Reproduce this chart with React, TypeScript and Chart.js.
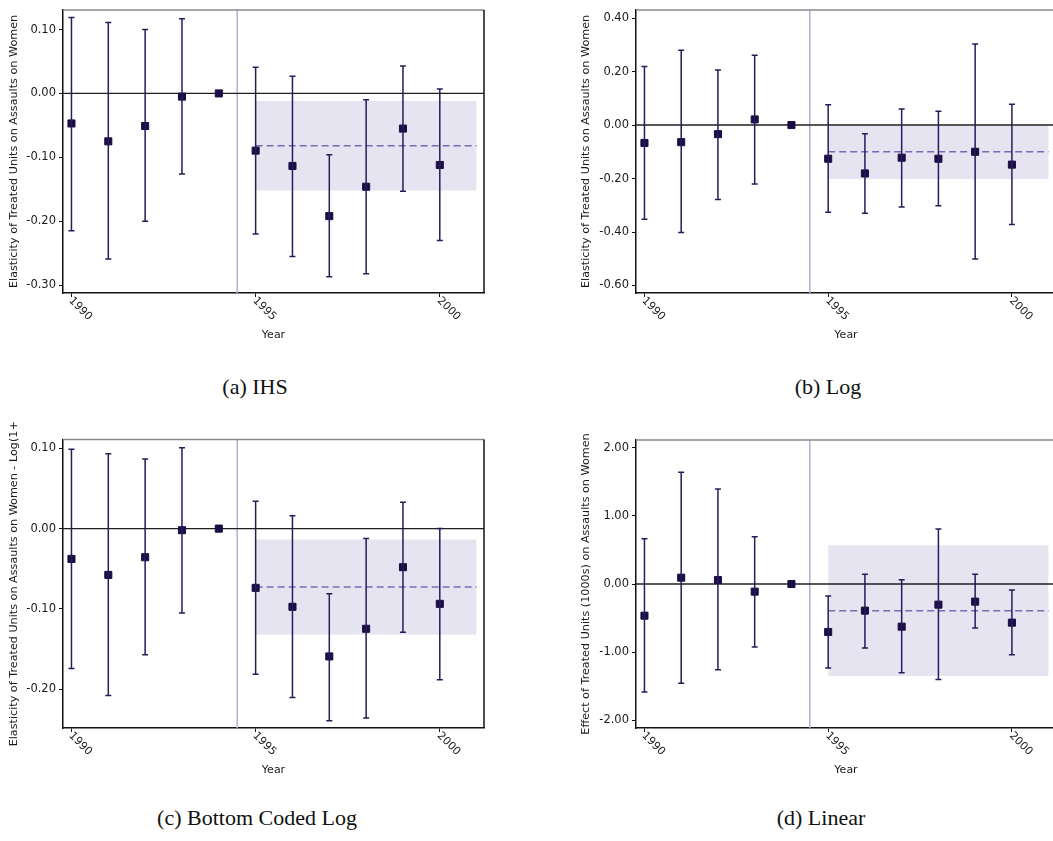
import React, { useEffect, useRef } from "react";
import { Chart, registerables } from "chart.js";

Chart.register(...registerables);

const years = [1990, 1991, 1992, 1993, 1994, 1995, 1996, 1997, 1998, 1999, 2000];
const xTickYears = [1990, 1995, 2000];
const xMin = 1989.77;
const xMax = 2001.2;
const treatmentLine = 1994.5;
const postStart = 1995;
const postEnd = 2001;

// (a) IHS
const ihsEst = [-0.047, -0.075, -0.051, -0.005, 0, -0.0895, -0.1135, -0.192, -0.146, -0.055, -0.112];
const ihsLower = [-0.215, -0.259, -0.2, -0.126, 0, -0.22, -0.255, -0.287, -0.282, -0.153, -0.23];
const ihsUpper = [0.119, 0.111, 0.1, 0.117, 0, 0.041, 0.027, -0.096, -0.01, 0.043, 0.007];
const ihsPooled = [-0.082, -0.152, -0.012];
const ihsTicks = [-0.3, -0.2, -0.1, 0, 0.1];
const ihsRange = [-0.3123, 0.1307];

// (b) Log
const logEst = [-0.067, -0.064, -0.034, 0.021, 0, -0.126, -0.181, -0.122, -0.126, -0.1, -0.148];
const logLower = [-0.352, -0.402, -0.278, -0.22, 0, -0.326, -0.33, -0.306, -0.302, -0.501, -0.372];
const logUpper = [0.219, 0.28, 0.206, 0.261, 0, 0.076, -0.033, 0.06, 0.052, 0.303, 0.078];
const logPooled = [-0.1, -0.2017, -0.0025];
const logTicks = [-0.6, -0.4, -0.2, 0, 0.2, 0.4];
const logRange = [-0.628, 0.4305];

// (c) Bottom Coded Log
const bclEst = [-0.0377, -0.0576, -0.0356, -0.002, 0, -0.0737, -0.0973, -0.159, -0.1246, -0.048, -0.0936];
const bclLower = [-0.174, -0.2075, -0.157, -0.105, 0, -0.181, -0.21, -0.239, -0.2356, -0.1288, -0.188];
const bclUpper = [0.0986, 0.093, 0.0866, 0.1006, 0, 0.034, 0.0161, -0.081, -0.0124, 0.0327, 0.0];
const bclPooled = [-0.0725, -0.1317, -0.0137];
const bclTicks = [-0.2, -0.1, 0, 0.1];
const bclRange = [-0.248, 0.1108];

// (d) Linear
const linEst = [-0.465, 0.093, 0.059, -0.112, 0, -0.704, -0.391, -0.626, -0.303, -0.259, -0.567];
const linLower = [-1.584, -1.457, -1.257, -0.924, 0, -1.232, -0.939, -1.301, -1.403, -0.645, -1.037];
const linUpper = [0.665, 1.638, 1.394, 0.694, 0, -0.176, 0.142, 0.064, 0.807, 0.142, -0.088];
const linPooled = [-0.391, -1.35, 0.567];
const linTicks = [-2, -1, 0, 1, 2];
const linRange = [-2.113, 2.113];

const FONT = "'DejaVu Sans', Arial, sans-serif";
const POINT = "#1b0e44";
const BAR = "#2a1b5a";
const DASH = "#7c69b3";
const VLINE = "#b7acdc";
const BAND = "rgb(231, 228, 241)";

type PanelProps = {
  left: number;
  top: number;
  width: number;
  height: number;
  padTop: number;
  padRight: number;
  yAxisWidth: number;
  title: string;
  est: number[];
  lower: number[];
  upper: number[];
  pooled: number[];
  ticks: number[];
  range: number[];
};

function Panel(p: PanelProps) {
  const ref = useRef<HTMLCanvasElement | null>(null);
  useEffect(() => {
    if (!ref.current) return;
    const { est, lower, upper, pooled, ticks, range } = p;
    const overlay = {
      id: "overlay",
      afterDatasetsDraw(chart: any) {
        const ctx = chart.ctx;
        const xs = chart.scales.x;
        const ys = chart.scales.y;
        const ca = chart.chartArea;
        ctx.save();
        ctx.strokeStyle = BAR;
        ctx.lineWidth = 1.5;
        years.forEach((yr, i) => {
          if (lower[i] === upper[i]) return;
          const px = xs.getPixelForValue(yr);
          const y1 = ys.getPixelForValue(upper[i]);
          const y2 = ys.getPixelForValue(lower[i]);
          ctx.beginPath();
          ctx.moveTo(px, y1);
          ctx.lineTo(px, y2);
          ctx.moveTo(px - 3, y1);
          ctx.lineTo(px + 3, y1);
          ctx.moveTo(px - 3, y2);
          ctx.lineTo(px + 3, y2);
          ctx.stroke();
        });
        ctx.lineWidth = 1.5;
        ctx.strokeStyle = "#8a8a8a";
        ctx.beginPath();
        ctx.moveTo(ca.left, ca.top);
        ctx.lineTo(ca.right, ca.top);
        ctx.stroke();
        ctx.strokeStyle = "#111";
        ctx.beginPath();
        ctx.moveTo(ca.right, ca.top);
        ctx.lineTo(ca.right, ca.bottom);
        ctx.stroke();
        ctx.restore();
      },
      afterDraw(chart: any) {
        const ctx = chart.ctx;
        const xs = chart.scales.x;
        const ca = chart.chartArea;
        ctx.save();
        ctx.font = "11px " + FONT;
        ctx.fillStyle = "#1a1a1a";
        ctx.textAlign = "left";
        ctx.textBaseline = "middle";
        xTickYears.forEach((v) => {
          const px = xs.getPixelForValue(v);
          ctx.save();
          ctx.translate(px - 1, ca.bottom + 6);
          ctx.rotate(Math.PI / 4);
          ctx.fillText(String(v), 0, 0);
          ctx.restore();
        });
        ctx.restore();
      },
    };
    const chart = new Chart(ref.current, {
      type: "scatter",
      data: {
        datasets: [
          {
            data: years.map((x, i) => ({ x, y: est[i] })),
            pointStyle: "rect",
            pointRadius: 5,
            backgroundColor: POINT,
            borderColor: POINT,
            borderWidth: 1,
            showLine: false,
          },
          {
            data: [
              { x: postStart, y: pooled[0] },
              { x: postEnd, y: pooled[0] },
            ],
            borderColor: DASH,
            borderWidth: 1.5,
            borderDash: [7, 4],
            pointRadius: 0,
            showLine: true,
            fill: false,
          },
          {
            data: [
              { x: xMin, y: 0 },
              { x: xMax, y: 0 },
            ],
            borderColor: "#1f1f1f",
            borderWidth: 1.4,
            pointRadius: 0,
            showLine: true,
            fill: false,
          },
          {
            data: [
              { x: treatmentLine, y: range[0] },
              { x: treatmentLine, y: range[1] },
            ],
            borderColor: VLINE,
            borderWidth: 1.5,
            pointRadius: 0,
            showLine: true,
            fill: false,
          },
          {
            data: [
              { x: postStart, y: pooled[2] },
              { x: postEnd, y: pooled[2] },
            ],
            borderColor: "rgba(0,0,0,0)",
            borderWidth: 1,
            pointRadius: 0,
            showLine: true,
            fill: "+1",
            backgroundColor: BAND,
          },
          {
            data: [
              { x: postStart, y: pooled[1] },
              { x: postEnd, y: pooled[1] },
            ],
            borderColor: "rgba(0,0,0,0)",
            borderWidth: 1,
            pointRadius: 0,
            showLine: true,
            fill: false,
          },
        ],
      } as any,
      options: {
        responsive: false,
        maintainAspectRatio: false,
        animation: false,
        events: [],
        layout: { padding: { top: p.padTop, right: p.padRight, left: 0, bottom: 0 } },
        plugins: { legend: { display: false }, tooltip: { enabled: false } },
        scales: {
          x: {
            type: "linear",
            min: xMin,
            max: xMax,
            afterBuildTicks: (s: any) => {
              s.ticks = xTickYears.map((v) => ({ value: v }));
            },
            afterFit: (s: any) => {
              s.height = 52;
            },
            ticks: { display: false },
            grid: {
              display: true,
              drawOnChartArea: false,
              drawTicks: true,
              tickLength: 4,
              color: "#111",
              lineWidth: 1,
            },
            border: { display: true, color: "#111", width: 1.5 },
            title: {
              display: true,
              text: "Year",
              color: "#1a1a1a",
              font: { family: FONT, size: 11 },
              padding: { top: 0, bottom: 3 },
            },
          },
          y: {
            type: "linear",
            min: range[0],
            max: range[1],
            afterBuildTicks: (s: any) => {
              s.ticks = ticks.map((v) => ({ value: v }));
            },
            afterFit: (s: any) => {
              s.width = p.yAxisWidth;
            },
            ticks: {
              callback: (v: any) => Number(v).toFixed(2),
              color: "#1a1a1a",
              font: { family: FONT, size: 11.5 },
              padding: 3,
            },
            grid: {
              display: true,
              drawOnChartArea: false,
              drawTicks: true,
              tickLength: 4,
              color: "#111",
              lineWidth: 1,
            },
            border: { display: true, color: "#111", width: 1.5 },
            title: {
              display: true,
              text: p.title,
              color: "#1a1a1a",
              font: { family: FONT, size: 11.2 },
              padding: { top: 7, bottom: 0 },
            },
          },
        },
      } as any,
      plugins: [overlay],
    });
    return () => chart.destroy();
  }, []);
  return (
    <canvas
      ref={ref}
      width={p.width}
      height={p.height}
      style={{ position: "absolute", left: p.left, top: p.top, width: p.width, height: p.height }}
    />
  );
}

const captionStyle = (cx: number, cy: number): React.CSSProperties => ({
  position: "absolute",
  left: cx - 200,
  top: cy - 15,
  width: 400,
  height: 30,
  lineHeight: "30px",
  textAlign: "center",
  fontFamily: "'Liberation Serif', 'DejaVu Serif', serif",
  fontSize: 22,
  color: "#111",
});

export default function App() {
  return (
    <div
      style={{
        position: "absolute",
        left: 0,
        top: 0,
        width: 1053,
        height: 841,
        overflow: "hidden",
        background: "#fff",
      }}
    >
      <Panel
        left={0}
        top={0}
        width={490}
        height={345}
        padTop={4}
        padRight={6}
        yAxisWidth={63}
        title="Elasticity of Treated Units on Assaults on Women"
        est={ihsEst}
        lower={ihsLower}
        upper={ihsUpper}
        pooled={ihsPooled}
        ticks={ihsTicks}
        range={ihsRange}
      />
      <Panel
        left={572}
        top={0}
        width={490}
        height={345}
        padTop={4}
        padRight={6}
        yAxisWidth={64}
        title="Elasticity of Treated Units on Assaults on Women"
        est={logEst}
        lower={logLower}
        upper={logUpper}
        pooled={logPooled}
        ticks={logTicks}
        range={logRange}
      />
      <Panel
        left={0}
        top={420}
        width={490}
        height={360}
        padTop={19.5}
        padRight={6}
        yAxisWidth={63}
        title="Elasticity of Treated Units on Assaults on Women - Log(1+"
        est={bclEst}
        lower={bclLower}
        upper={bclUpper}
        pooled={bclPooled}
        ticks={bclTicks}
        range={bclRange}
      />
      <Panel
        left={572}
        top={420}
        width={490}
        height={360}
        padTop={20}
        padRight={6}
        yAxisWidth={64}
        title="Effect of Treated Units (1000s) on Assaults on Women"
        est={linEst}
        lower={linLower}
        upper={linUpper}
        pooled={linPooled}
        ticks={linTicks}
        range={linRange}
      />
      <div style={captionStyle(255, 387)}>(a) IHS</div>
      <div style={captionStyle(828, 387)}>(b) Log</div>
      <div style={captionStyle(257, 818)}>(c) Bottom Coded Log</div>
      <div style={captionStyle(821, 818)}>(d) Linear</div>
    </div>
  );
}
